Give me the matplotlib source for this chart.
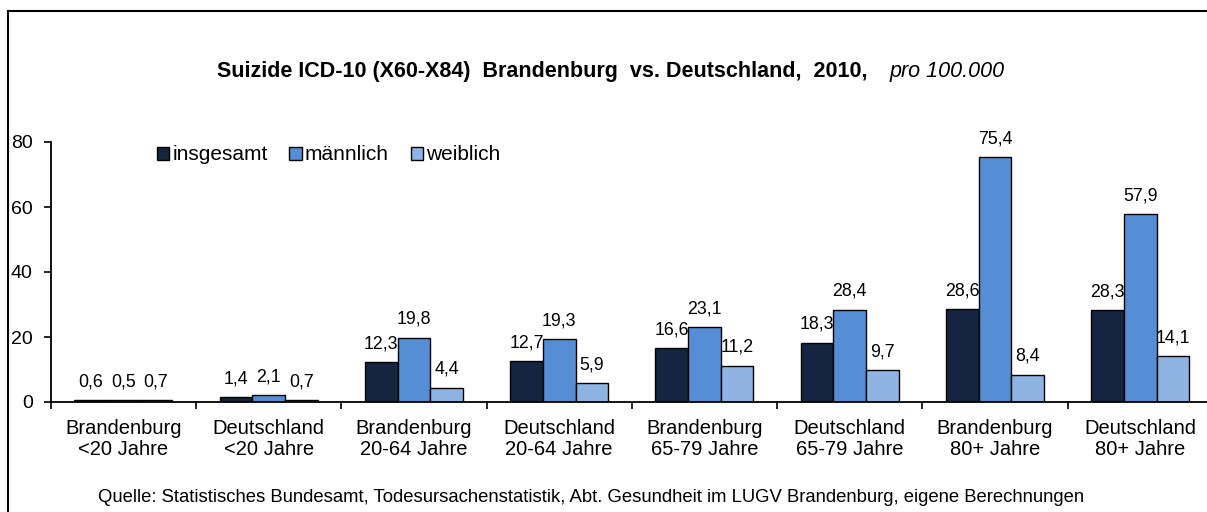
import matplotlib
matplotlib.use("Agg")
from matplotlib import pyplot as plt
from matplotlib.lines import Line2D
import numpy as np

plt.rcParams['font.family'] = ['Liberation Sans', 'DejaVu Sans']

categories = ["Brandenburg\n<20 Jahre", "Deutschland\n<20 Jahre",
              "Brandenburg\n20-64 Jahre", "Deutschland\n20-64 Jahre",
              "Brandenburg\n65-79 Jahre", "Deutschland\n65-79 Jahre",
              "Brandenburg\n80+ Jahre", "Deutschland\n80+ Jahre"]
insgesamt = [0.6, 1.4, 12.3, 12.7, 16.6, 18.3, 28.6, 28.3]
maennlich = [0.5, 2.1, 19.8, 19.3, 23.1, 28.4, 75.4, 57.9]
weiblich = [0.7, 0.7, 4.4, 5.9, 11.2, 9.7, 8.4, 14.1]
series_names = ["insgesamt", "männlich", "weiblich"]
colors = ["#13253F", "#558ED5", "#8EB4E3"]

fig = plt.figure(figsize=(12.07, 5.12), dpi=100)
ax = fig.add_axes([50.8 / 1207, 110 / 512, 1162 / 1207, 260 / 512])

x = np.arange(len(categories))
w = 0.225
for i, (vals, name) in enumerate(zip([insgesamt, maennlich, weiblich], series_names)):
    pos = x + (i - 1) * w
    ax.bar(pos, vals, width=w, color=colors[i], edgecolor="black", linewidth=1.0, label=name)
    for px, v in zip(pos, vals):
        ax.annotate(f"{v:.1f}".replace(".", ","), (px, v), xytext=(0, 7),
                    textcoords="offset points", ha="center", va="bottom", fontsize=12.8)

ax.set_xlim(-0.5, len(categories) - 0.5)
ax.set_ylim(0, 80)
ax.set_yticks([0, 20, 40, 60, 80])
ax.set_xticks(x)
ax.set_xticklabels(categories, fontsize=14.5, linespacing=1.15)
ax.set_xticks(np.arange(len(categories) + 1) - 0.5, minor=True)
ax.tick_params(axis="x", which="major", length=0, pad=12)
ax.tick_params(axis="x", which="minor", length=5, width=1.2, direction="out")
ax.tick_params(axis="y", labelsize=14, length=5, width=1.2, pad=8)
for s in ["top", "right"]:
    ax.spines[s].set_visible(False)
for s in ["left", "bottom"]:
    ax.spines[s].set_linewidth(1.3)

fig.legend(loc="center left", bbox_to_anchor=(157 / 1207, 1 - 155 / 512), ncol=3,
           frameon=False, fontsize=15, handlelength=0.58, handleheight=0.58,
           handletextpad=0.15, columnspacing=1.05, borderaxespad=0, borderpad=0)

fig.text(217 / 1207, 1 - 72 / 512,
         "Suizide ICD-10 (X60-X84)  Brandenburg  vs. Deutschland,  2010,",
         ha="left", va="center", fontsize=15.5, fontweight="bold")
fig.text(1005 / 1207, 1 - 72 / 512, "pro 100.000", ha="right", va="center",
         fontsize=15.5, style="italic")

fig.text(591 / 1207, 1 - 497 / 512,
         "Quelle: Statistisches Bundesamt, Todesursachenstatistik, Abt. Gesundheit im LUGV Brandenburg, eigene Berechnungen",
         ha="center", va="center", fontsize=13.3)

fig.add_artist(Line2D([8 / 1207, 8 / 1207], [0, 1 - 11 / 512], color="black", linewidth=1.5))
fig.add_artist(Line2D([8 / 1207, 1], [1 - 11 / 512, 1 - 11 / 512], color="black", linewidth=1.5))

fig.savefig("out.png", dpi=100)
